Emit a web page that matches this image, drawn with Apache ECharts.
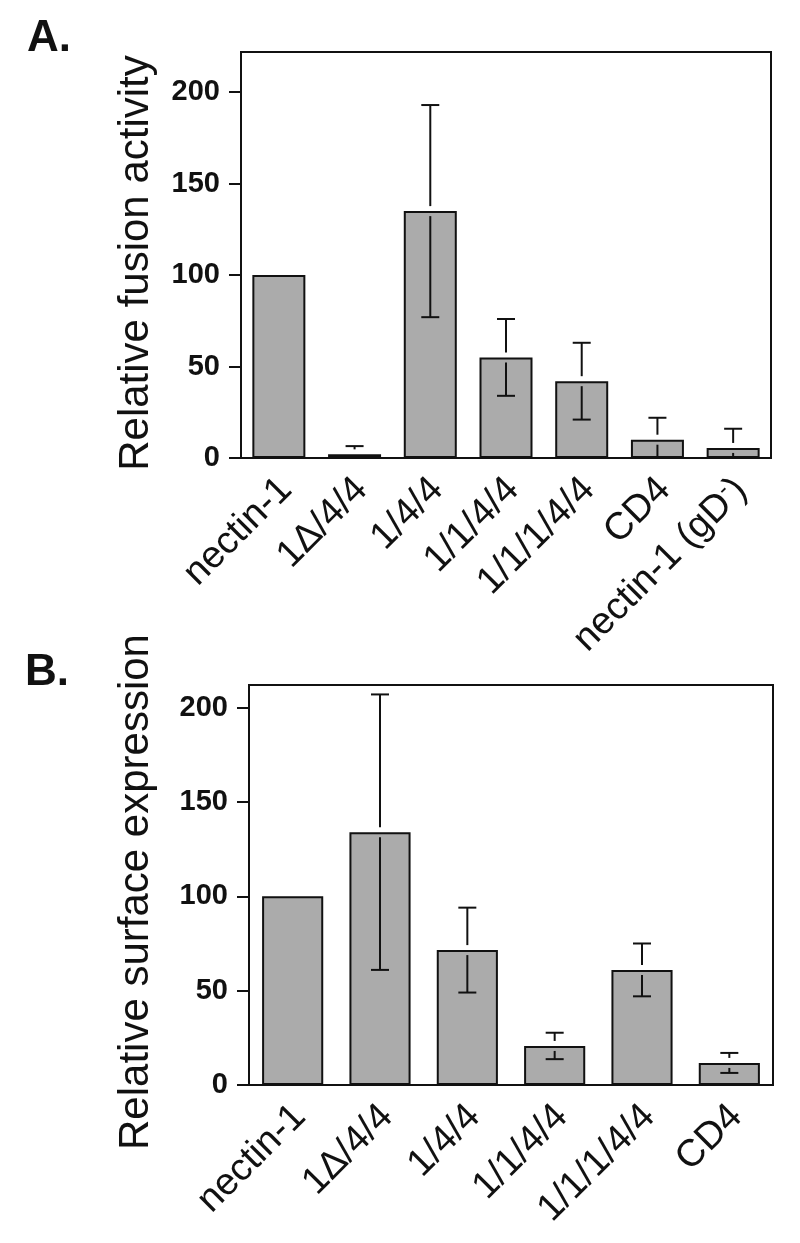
<!DOCTYPE html>
<html><head><meta charset="utf-8">
<script src="https://cdn.jsdelivr.net/npm/echarts@6/dist/echarts.min.js"></script>
<style>html,body{margin:0;padding:0;background:#fff}#c{width:800px;height:1243px}</style>
</head><body><div id="c"></div>
<script>
const fusionCategories = ['nectin-1', '1Δ/4/4', '1/4/4', '1/1/4/4', '1/1/1/4/4', 'CD4', 'nectin-1 (gD-)'];
const fusionValues = [100, 2, 135, 55, 42, 10, 5.5];
const fusionErrors = [0, 4.5, 58, 21, 21, 12, 10.5];
const surfaceCategories = ['nectin-1', '1Δ/4/4', '1/4/4', '1/1/4/4', '1/1/1/4/4', 'CD4'];
const surfaceValues = [100, 134, 71.5, 20.7, 61, 11.7];
const surfaceErrors = [0, 73, 22.5, 7, 14, 5.3];
const yTickValues = [0, 50, 100, 150, 200];

const FONT = '"Liberation Sans", Arial, Helvetica, sans-serif';
const INK = '#111';

function xAxis(gridIndex, cats) {
  return {
    type: 'category', gridIndex, data: cats,
    axisLine: {lineStyle: {color: INK, width: 2}},
    axisTick: {show: false},
    axisLabel: {
      rotate: 45, margin: 6, color: INK, fontFamily: FONT, fontSize: 38, interval: 0,
      verticalAlign: 'top', padding: [0, 9, 0, 0],
      formatter: v => v.replace('(gD-)', '(gD{sup|-})'),
      rich: {sup: {fontSize: 23, fontFamily: FONT, color: INK, padding: [0, 0, 17, 0]}}
    }
  };
}
function yAxis(gridIndex, max) {
  return {
    type: 'value', gridIndex, min: 0, max,
    splitLine: {show: false},
    axisLine: {show: true, lineStyle: {color: INK, width: 2}},
    axisTick: {show: true, length: 12, customValues: yTickValues, lineStyle: {color: INK, width: 2}},
    axisLabel: {customValues: yTickValues, margin: 21, color: INK, fontFamily: FONT, fontSize: 29, fontWeight: 'bold'}
  };
}
function barSeries(i, vals) {
  return {
    type: 'bar', xAxisIndex: i, yAxisIndex: i, data: vals, barWidth: '70%',
    itemStyle: {color: '#ababab', borderColor: INK, borderWidth: 2},
    silent: true, z: 2
  };
}
function errorSeries(i, vals, errs) {
  return {
    type: 'custom', xAxisIndex: i, yAxisIndex: i, z: 10, silent: true,
    data: vals.map((v, k) => [k, v, errs[k]]),
    renderItem: (params, api) => {
      const k = api.value(0), v = api.value(1), e = api.value(2);
      if (!e) return null;
      const top = api.coord([k, v + e]);
      const mid = api.coord([k, v]);
      const lowV = v - e;
      const low = api.coord([k, Math.max(lowV, 0)]);
      const x = top[0], cap = 9, gap = 5;
      const st = {stroke: INK, lineWidth: 2};
      const ch = [];
      ch.push({type: 'line', shape: {x1: x, y1: top[1], x2: x, y2: Math.max(top[1], mid[1] - gap)}, style: st});
      ch.push({type: 'line', shape: {x1: x - cap, y1: top[1], x2: x + cap, y2: top[1]}, style: st});
      if (low[1] > mid[1] + gap) {
        ch.push({type: 'line', shape: {x1: x, y1: mid[1] + gap, x2: x, y2: low[1]}, style: st});
        if (lowV > 0) ch.push({type: 'line', shape: {x1: x - cap, y1: low[1], x2: x + cap, y2: low[1]}, style: st});
      }
      return {type: 'group', children: ch};
    }
  };
}

const chart = echarts.init(document.getElementById('c'), null, {renderer: 'canvas'});
chart.setOption({
  animation: false,
  backgroundColor: '#fff',
  grid: [
    {left: 241, width: 530, top: 52, height: 406, show: true, borderColor: INK, borderWidth: 2, containLabel: false},
    {left: 249, width: 524, top: 685, height: 400, show: true, borderColor: INK, borderWidth: 2, containLabel: false}
  ],
  xAxis: [xAxis(0, fusionCategories), xAxis(1, surfaceCategories)],
  yAxis: [yAxis(0, 222), yAxis(1, 212)],
  series: [
    barSeries(0, fusionValues), errorSeries(0, fusionValues, fusionErrors),
    barSeries(1, surfaceValues), errorSeries(1, surfaceValues, surfaceErrors)
  ],
  graphic: [
    {type: 'text', left: 27, top: 17, style: {text: 'A.', font: 'bold 44px ' + FONT, fill: INK}},
    {type: 'text', left: 25, top: 651, style: {text: 'B.', font: 'bold 44px ' + FONT, fill: INK}},
    {type: 'text', x: 136, y: 263, rotation: Math.PI / 2,
     style: {text: 'Relative fusion activity', font: '42px ' + FONT, fill: INK, align: 'center', verticalAlign: 'middle'}},
    {type: 'text', x: 136, y: 892, rotation: Math.PI / 2,
     style: {text: 'Relative surface expression', font: '42px ' + FONT, fill: INK, align: 'center', verticalAlign: 'middle'}}
  ]
});
</script></body></html>
